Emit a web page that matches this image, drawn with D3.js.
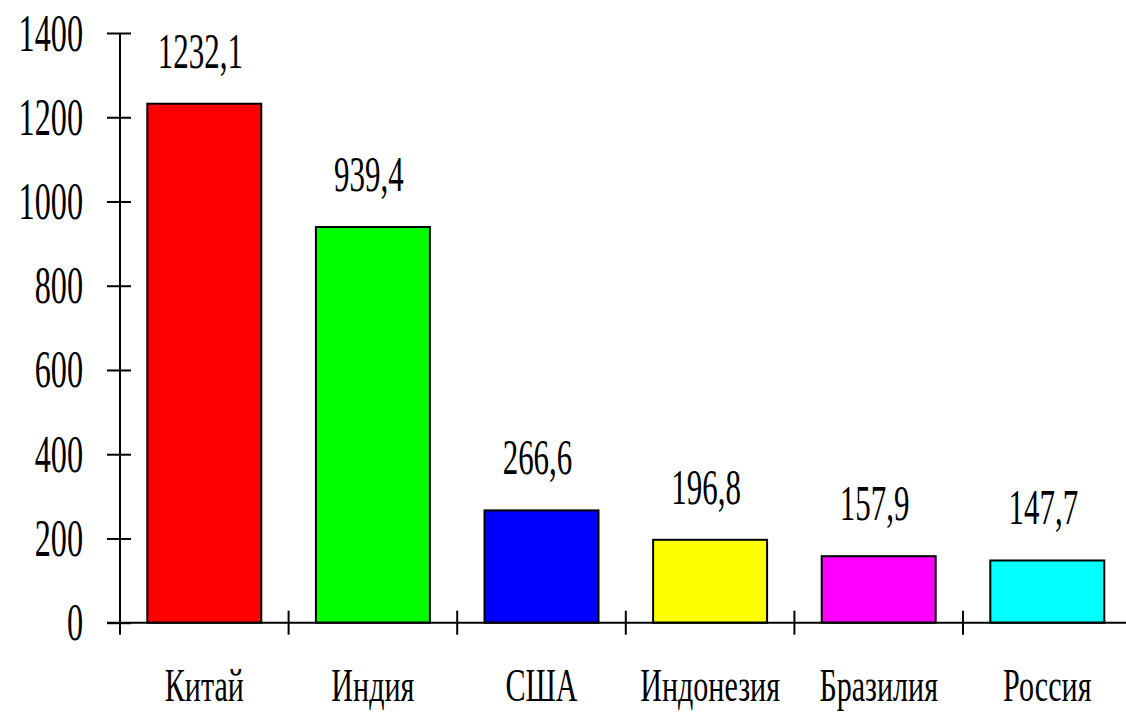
<!DOCTYPE html>
<html><head><meta charset="utf-8">
<script src="https://cdn.jsdelivr.net/npm/d3@7"></script>
<style>body{margin:0;background:#fff}svg{display:block}</style>
</head><body>
<svg id="c" width="1126" height="712"></svg>
<script>
const categories = ["Китай","Индия","США","Индонезия","Бразилия","Россия"];
const values = [1232.1, 939.4, 266.6, 196.8, 157.9, 147.7];
const valueLabels = ["1232,1","939,4","266,6","196,8","157,9","147,7"];
const colors = ["#ff0000","#00ff00","#0000ff","#ffff00","#ff00ff","#00ffff"];
const yTicks = [0,200,400,600,800,1000,1200,1400];

const svg = d3.select("#c");
const FONT = "'Liberation Serif', 'DejaVu Serif', serif";
const x0 = 120, x1 = 1131.6, yBase = 622.7, yTop = 33;
const x = d3.scaleBand().domain(categories).range([x0, x1]).paddingInner(0).paddingOuter(0);
const y = d3.scaleLinear().domain([0, 1400]).range([yBase, yTop]);
const bw = x.bandwidth();
const barFrac = 0.676;

// bars
svg.selectAll("rect.bar").data(categories).join("rect")
  .attr("class","bar")
  .attr("x", d => x(d) + bw*(1-barFrac)/2)
  .attr("width", bw*barFrac)
  .attr("y", (d,i) => y(values[i]))
  .attr("height", (d,i) => y(0) - y(values[i]))
  .attr("fill", (d,i) => colors[i])
  .attr("stroke", "#000").attr("stroke-width", 2);

// axis lines
svg.append("line").attr("x1", x0).attr("x2", x0).attr("y1", y(1400)).attr("y2", yBase+12)
  .attr("stroke","#000").attr("stroke-width",2);
svg.append("line").attr("x1", x0-13).attr("x2", 1126).attr("y1", yBase).attr("y2", yBase)
  .attr("stroke","#000").attr("stroke-width",2);

// y axis ticks
const gy = svg.append("g").attr("transform", `translate(${x0},0)`)
  .call(d3.axisLeft(y).tickValues(yTicks).tickSizeOuter(0).tickFormat(d3.format("d")));
gy.select(".domain").remove();
gy.selectAll(".tick line").attr("x1",-13).attr("x2",11).attr("stroke","#000").attr("stroke-width",2);
gy.selectAll(".tick text")
  .attr("x",0).attr("dy",null).attr("y",null)
  .attr("transform","translate(-37,17) scale(0.62,1)")
  .attr("text-anchor","end")
  .style("font-family",FONT).style("font-size","52px").attr("fill","#000");

// x ticks at band boundaries
const bounds = categories.map(c => x(c)).concat([x1]);
svg.selectAll("line.xt").data(bounds.slice(1)).join("line")
  .attr("class","xt")
  .attr("x1", d=>d).attr("x2", d=>d).attr("y1", yBase-12).attr("y2", yBase+12)
  .attr("stroke","#000").attr("stroke-width",2);

// category labels
svg.selectAll("text.cat").data(categories).join("text")
  .attr("class","cat")
  .attr("transform", d => `translate(${x(d)+bw/2},701) scale(0.7,1.1)`)
  .attr("text-anchor","middle")
  .style("font-family",FONT).style("font-size","43px").attr("fill","#000")
  .text(d=>d);

// value labels
svg.selectAll("text.val").data(categories).join("text")
  .attr("class","val")
  .attr("transform", (d,i) => `translate(${x(d)+bw/2-4},${y(values[i])-36}) scale(0.62,1)`)
  .attr("text-anchor","middle")
  .style("font-family",FONT).style("font-size","50px").attr("fill","#000")
  .text((d,i)=>valueLabels[i]);
</script>
</body></html>
